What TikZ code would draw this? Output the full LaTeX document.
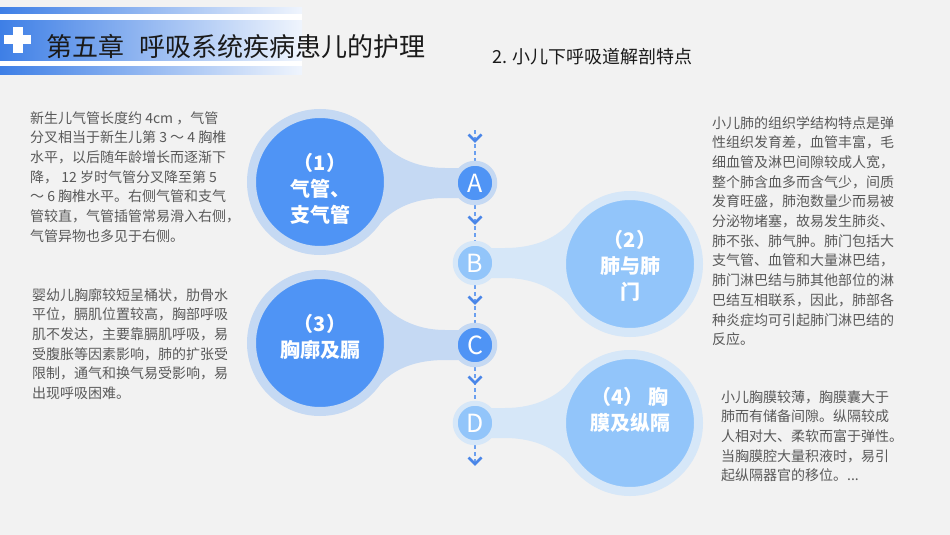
\documentclass[tikz,border=0pt]{standalone}
\usepackage{fontspec}
\setmainfont{Noto Sans CJK SC}
\usetikzlibrary{calc}
\pgfdeclarelayer{bg}
\pgfsetlayers{bg,main}
\definecolor{bgc}{HTML}{F2F2F2}
\definecolor{darkc}{HTML}{4F94F5}
\definecolor{lightc}{HTML}{92C5FA}
\definecolor{ringdark}{HTML}{C5D9F3}
\definecolor{ringlight}{HTML}{D6E7F8}
\definecolor{chevc}{HTML}{4A86E8}
\definecolor{dashc}{HTML}{6A9FEF}
\definecolor{txtc}{HTML}{595959}
\definecolor{titlec}{HTML}{1A1A1A}
\definecolor{hdblue}{HTML}{3E7FE6}
\newcommand\neckpath[5]{%
  \fill[#5] ($(#1)+(#3*57,-45)$) .. controls ($(#1)+(#3*72,-26)$) and ($(#2)+(#4*60,-15)$) .. ($(#2)+(#4*30,-15)$)
    -- ($(#2)+(0,-15)$) -- ($(#2)+(0,15)$) -- ($(#2)+(#4*30,15)$)
    .. controls ($(#2)+(#4*60,15)$) and ($(#1)+(#3*72,26)$) .. ($(#1)+(#3*57,45)$) -- cycle;}
\newcommand\chevron[1]{\draw[chevstyle] ($(#1)+(-6.5,-4.5)$) -- ($(#1)+(0,2)$) -- ($(#1)+(6.5,-4.5)$);}
\begin{document}
\begin{tikzpicture}[x=1pt,y=-1pt,
  bigdark/.style={circle, fill=darkc, draw=ringdark, line width=9pt, minimum size=137pt, inner sep=0pt},
  biglight/.style={circle, fill=lightc, draw=ringlight, line width=9pt, minimum size=137pt, inner sep=0pt},
  smalldark/.style={circle, fill=darkc, draw=ringdark, line width=5pt, minimum size=39.5pt, inner sep=0pt, text=white, font=\fontsize{25}{25}\selectfont},
  smalllight/.style={circle, fill=lightc, draw=ringlight, line width=5pt, minimum size=39.5pt, inner sep=0pt, text=white, font=\fontsize{25}{25}\selectfont},
  circtxt/.style={align=center, inner sep=0pt, text=white, font=\fontsize{20}{26}\selectfont\bfseries},
  bodytxt/.style={align=left, inner sep=0pt, anchor=north west, text=txtc, font=\fontsize{14}{19.7}\selectfont},
  chevstyle/.style={draw=chevc, line width=2.8pt, miter limit=10},
  dashline/.style={draw=dashc, line width=1.6pt, dash pattern=on 4pt off 3pt}
]
\useasboundingbox (0,0) rectangle (950,535);

% circles
\node[bigdark] (c1) at (320,182) {};
\node[biglight] (c2) at (630,264) {};
\node[bigdark] (c3) at (320,343) {};
\node[biglight] (c4) at (630,423) {};
\node[smalldark] (A) at (475,183) {A};
\node[smalllight] (B) at (475,263) {B};
\node[smalldark] (C) at (475,345) {C};
\node[smalllight] (D) at (475,423) {D};
\coordinate (top) at (475,130);
\coordinate (bot) at (475,462);

\begin{pgfonlayer}{bg}
\fill[bgc] (0,0) rectangle (950,535);
\neckpath{c1}{A}{1}{-1}{ringdark}
\neckpath{c2}{B}{-1}{1}{ringlight}
\neckpath{c3}{C}{1}{-1}{ringdark}
\neckpath{c4}{D}{-1}{1}{ringlight}
\draw[dashline] (top) -- (A) -- (B) -- (C) -- (D) -- (bot);
\end{pgfonlayer}

% header
\fill[white] (0,8) rectangle (302,74);
\shade[left color=hdblue, right color=white!92!hdblue] (0,8) rectangle (302,14);
\shade[left color=hdblue, right color=white!92!hdblue] (0,21) rectangle (302,61);
\shade[left color=hdblue, right color=white!92!hdblue] (0,67) rectangle (302,74);
\fill[white] (4,35) rectangle (31,44.5);
\fill[white] (12.5,27) rectangle (22.5,53);
\node[anchor=west, inner sep=0pt, text=titlec, font=\fontsize{26}{26}\selectfont] (title) at (46,46) {第五章\hspace{0.6em}呼吸系统疾病患儿的护理};
\node[anchor=west, inner sep=0pt, text=titlec, font=\fontsize{18}{18}\selectfont] (sub) at (492,57) {2. 小儿下呼吸道解剖特点};

\chevron{475,139}
\chevron{475,221}
\chevron{475,301}
\chevron{475,381}
\chevron{475,462}

\node[circtxt] (l1) at (320,189) {（1）\\气管、\\支气管};
\node[circtxt] (l2) at (630,266) {（2）\\肺与肺\\门};
\node[circtxt] (l3) at (320,337) {（3）\\胸廓及膈};
\node[circtxt] (l4) at (630,410) {（4） 胸\\膜及纵隔};

% body texts
\node[bodytxt] (t1) at (30,111) {新生儿气管长度约 4cm ，气管\\分叉相当于新生儿第 3 ～ 4 胸椎\\水平，以后随年龄增长而逐渐下\\降， 12 岁时气管分叉降至第 5\\～ 6 胸椎水平。右侧气管和支气\\管较直，气管插管常易滑入右侧，\\气管异物也多见于右侧。};
\node[bodytxt] (t3) at (32,288) {婴幼儿胸廓较短呈桶状，肋骨水\\平位，膈肌位置较高，胸部呼吸\\肌不发达，主要靠膈肌呼吸，易\\受腹胀等因素影响，肺的扩张受\\限制，通气和换气易受影响，易\\出现呼吸困难。};
\node[bodytxt] (t2) at (712,116) {小儿肺的组织学结构特点是弹\\性组织发育差，血管丰富，毛\\细血管及淋巴间隙较成人宽，\\整个肺含血多而含气少，间质\\发育旺盛，肺泡数量少而易被\\分泌物堵塞，故易发生肺炎、\\肺不张、肺气肿。肺门包括大\\支气管、血管和大量淋巴结，\\肺门淋巴结与肺其他部位的淋\\巴结互相联系，因此，肺部各\\种炎症均可引起肺门淋巴结的\\反应。};
\node[bodytxt] (t4) at (721,390) {小儿胸膜较薄，胸膜囊大于\\肺而有储备间隙。纵隔较成\\人相对大、柔软而富于弹性。\\当胸膜腔大量积液时，易引\\起纵隔器官的移位。...};
\end{tikzpicture}
\end{document}
